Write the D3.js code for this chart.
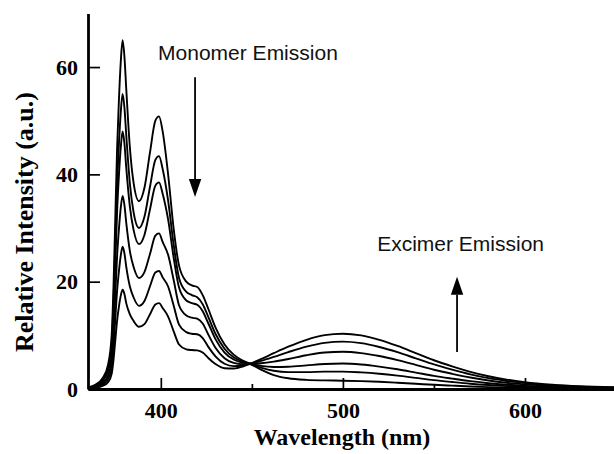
<!DOCTYPE html>
<html>
<head>
<meta charset="utf-8">
<script src="https://cdn.jsdelivr.net/npm/d3@7"></script>
<style>
  body { margin: 0; background: #fff; }
</style>
</head>
<body>
<div id="chart"></div>
<script>
// Wavelength samples (nm)
var wavelengths = [360, 364, 368, 371, 373, 374, 375, 376, 377, 378, 379, 380, 381, 383, 385,
  388, 391, 394, 397, 399, 401, 404, 407, 410, 414, 417, 420, 423, 426, 430,
  435, 440, 445, 449, 455, 462, 470, 480, 490, 500, 510, 520, 530, 540, 550,
  560, 570, 580, 590, 600, 615, 630, 650];

// One spectrum per titration step (strongest monomer first)
var spec1 = [0.3, 0.8, 2.0, 4.5, 10, 19, 32, 45, 54, 61, 65, 62, 56, 45, 38.5,
  35, 37.5, 44, 50, 50.8, 48, 40, 30, 23, 20.0, 19.3, 19.0, 17.5, 15.0, 11.5,
  8.3, 6.4, 5.3, 4.7, 3.6, 2.6, 2.0, 1.7, 1.6, 1.55, 1.46, 1.34, 1.17, 0.98, 0.78,
  0.62, 0.47, 0.35, 0.26, 0.19, 0.12, 0.08, 0.05];
var spec2 = [0.25, 0.68, 1.69, 3.81, 8.46, 16.1, 27.1, 38.1, 45.7, 51.6, 55.0, 52.5, 47.4, 38.3, 33.0,
  30.0, 32.1, 37.6, 42.7, 43.4, 41.0, 35.1, 27.0, 20.7, 18.1, 17.5, 17.1, 15.8, 13.5, 10.3,
  7.5, 5.9, 5.1, 4.7, 4.0, 3.4, 3.15, 3.15, 3.23, 3.24, 3.10, 2.85, 2.50, 2.08, 1.66,
  1.31, 0.99, 0.74, 0.54, 0.40, 0.26, 0.16, 0.10];
var spec3 = [0.22, 0.59, 1.48, 3.32, 7.38, 14.0, 23.6, 33.2, 39.9, 45.0, 48.0, 45.8, 41.3, 34.0, 29.7,
  27.0, 28.7, 33.4, 37.9, 38.5, 36.4, 31.6, 24.6, 18.9, 16.5, 16.0, 15.7, 14.5, 12.3, 9.3,
  6.8, 5.5, 4.9, 4.7, 4.3, 4.1, 4.15, 4.4, 4.67, 4.74, 4.56, 4.18, 3.67, 3.06, 2.44,
  1.93, 1.46, 1.08, 0.80, 0.59, 0.38, 0.24, 0.14];
var spec4 = [0.17, 0.44, 1.11, 2.49, 5.54, 10.5, 17.7, 24.9, 29.9, 33.8, 36.0, 34.3, 31.0, 25.7, 22.8,
  20.7, 21.8, 25.1, 28.6, 29.0, 27.4, 25.0, 20.4, 15.6, 13.7, 13.3, 13.1, 12.2, 10.2, 7.7,
  5.75, 4.86, 4.61, 4.7, 4.8, 5.1, 5.6, 6.3, 6.8, 6.93, 6.69, 6.14, 5.38, 4.49, 3.59,
  2.83, 2.14, 1.59, 1.17, 0.86, 0.55, 0.35, 0.21];
var spec5 = [0.12, 0.33, 0.82, 1.84, 4.08, 7.75, 13.1, 18.4, 22.0, 24.9, 26.5, 25.3, 22.8, 19.1, 17.1,
  15.5, 16.4, 19.1, 21.7, 22.0, 20.8, 19.1, 15.6, 12.0, 10.6, 10.3, 10.2, 9.5, 7.9, 6.1,
  4.7, 4.26, 4.38, 4.7, 5.23, 5.97, 6.88, 7.9, 8.6, 8.82, 8.54, 7.83, 6.86, 5.72, 4.58,
  3.61, 2.73, 2.02, 1.50, 1.10, 0.70, 0.44, 0.26];
var spec6 = [0.09, 0.23, 0.57, 1.28, 2.85, 5.4, 9.1, 12.8, 15.4, 17.4, 18.5, 17.7, 16.0, 13.9, 12.7,
  11.6, 12.1, 13.9, 15.75, 16.0, 15.1, 13.5, 10.8, 8.3, 7.4, 7.26, 7.2, 6.8, 5.8, 4.66,
  3.87, 3.83, 4.18, 4.7, 5.57, 6.67, 7.88, 9.17, 10.03, 10.31, 9.99, 9.17, 8.03, 6.70, 5.36,
  4.22, 3.19, 2.37, 1.75, 1.29, 0.82, 0.52, 0.31];
var spectra = [spec1, spec2, spec3, spec4, spec5, spec6];

// Axis ticks
var xMajorTicks = [400, 500, 600];
var xMinorTicks = [450, 550];
var yTicks = [0, 20, 40, 60];

var width = 614, height = 454;

var svg = d3.select("#chart")
    .append("svg")
    .attr("width", width)
    .attr("height", height);

var x = d3.scaleLinear().domain([360, 650]).range([88, 616]);
var y = d3.scaleLinear().domain([0, 70]).range([389, 13.4]);

svg.append("clipPath")
    .attr("id", "plot")
    .append("rect")
    .attr("x", x(360)).attr("y", 0)
    .attr("width", width - x(360)).attr("height", y(0));

// Spectra
var line = d3.line()
    .x(function (d, i) { return x(wavelengths[i]); })
    .y(function (d) { return y(d); })
    .curve(d3.curveMonotoneX);

svg.append("g")
    .attr("clip-path", "url(#plot)")
    .selectAll(".spec")
    .data(spectra)
    .enter()
    .append("path")
    .attr("class", "spec")
    .attr("d", line)
    .attr("fill", "none")
    .attr("stroke", "#000")
    .attr("stroke-width", 1.9)
    .attr("stroke-linejoin", "round");

// Axes
var serif = "'Liberation Serif', 'Times New Roman', serif";

svg.append("g")
    .attr("transform", "translate(0," + y(0) + ")")
    .call(d3.axisBottom(x).tickValues(xMajorTicks).tickSize(-11).tickSizeOuter(0).tickPadding(13));
svg.append("g")
    .attr("transform", "translate(0," + y(0) + ")")
    .call(d3.axisBottom(x).tickValues(xMinorTicks).tickSize(-5).tickSizeOuter(0).tickFormat(""))
    .select(".domain").remove();

svg.append("g")
    .attr("transform", "translate(" + x(360) + ",0)")
    .call(d3.axisLeft(y).tickValues(yTicks).tickSize(-12).tickSizeOuter(0).tickPadding(10));

svg.selectAll(".domain").attr("stroke", "#000").attr("stroke-width", 2.8);
svg.selectAll(".tick line").attr("stroke", "#000").attr("stroke-width", 1.7);
svg.selectAll(".tick text")
    .attr("font-family", serif)
    .attr("font-weight", "bold")
    .attr("font-size", 22)
    .attr("fill", "#000");

// Axis titles
svg.append("text")
    .attr("x", 342).attr("y", 445)
    .attr("text-anchor", "middle")
    .attr("font-family", serif).attr("font-weight", "bold").attr("font-size", 24)
    .text("Wavelength (nm)");

svg.append("text")
    .attr("transform", "translate(33,222) rotate(-90)")
    .attr("text-anchor", "middle")
    .attr("font-family", serif).attr("font-weight", "bold").attr("font-size", 26)
    .text("Relative Intensity (a.u.)");

// Annotations (positions in data units)
var sans = "'Liberation Sans', Arial, sans-serif";
var notes = [
  { text: "Monomer Emission", wl: 398.5, v: 61.3 },
  { text: "Excimer Emission", wl: 518.8, v: 25.7 }
];
svg.selectAll(".note")
    .data(notes)
    .enter()
    .append("text")
    .attr("class", "note")
    .attr("x", function (d) { return x(d.wl); })
    .attr("y", function (d) { return y(d.v); })
    .attr("font-family", sans)
    .attr("font-size", 21)
    .attr("fill", "#111")
    .text(function (d) { return d.text; });

var arrows = [
  { wl: 418.8, from: 58.1, to: 35.8 },
  { wl: 562.7, from: 6.9, to: 20.9 }
];
arrows.forEach(function (a) {
  var ax = x(a.wl), y0 = y(a.from), y1 = y(a.to);
  var dir = y1 > y0 ? 1 : -1, headLen = 18, headW = 6.2;
  svg.append("line")
      .attr("x1", ax).attr("y1", y0)
      .attr("x2", ax).attr("y2", y1 - dir * headLen)
      .attr("stroke", "#000").attr("stroke-width", 1.8);
  svg.append("path")
      .attr("d", "M" + ax + "," + y1
        + "L" + (ax - headW) + "," + (y1 - dir * headLen)
        + "L" + (ax + headW) + "," + (y1 - dir * headLen) + "Z")
      .attr("fill", "#000");
});
</script>
</body>
</html>
